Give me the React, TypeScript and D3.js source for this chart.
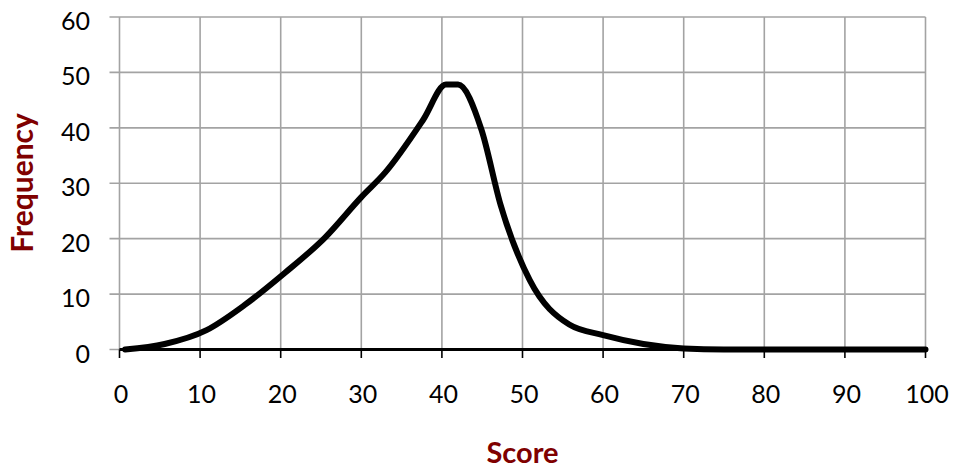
import React from "react";
import * as d3 from "d3";

const scores = [0.7, 5.6, 10.8, 15.5, 20.5, 25.5, 30, 33, 37.7, 40.5, 42, 44.9, 47.3, 50.9, 55.8, 60, 65, 70, 75, 80, 85, 90, 95, 100];
const freqs = [0, 1, 3.5, 8, 13.8, 20.2, 27.5, 32, 41.5, 47.8, 47.8, 39.7, 26, 12.5, 4.5, 2.6, 1.0, 0.2, 0, 0, 0, 0, 0, 0];
const xTicks = [0, 10, 20, 30, 40, 50, 60, 70, 80, 90, 100];
const yTicks = [0, 10, 20, 30, 40, 50, 60];
const xTitle = "Score";
const yTitle = "Frequency";

const W = 953;
const H = 471;
const X0 = 119.5;
const X1 = 925.5;
const Y0 = 349.5;
const Y1 = 17;

export default function App() {
  const x = d3.scaleLinear().domain([0, 100]).range([X0, X1]);
  const y = d3.scaleLinear().domain([0, 60]).range([Y0, Y1]);
  const pts = scores.map((s, i) => [s, freqs[i]] as [number, number]);
  const line = d3
    .line<[number, number]>()
    .x((d) => x(d[0]))
    .y((d) => y(d[1]))
    .curve(d3.curveMonotoneX);
  const grid = "#a3a3a3";
  const font = "Lato, 'Open Sans', sans-serif";
  return (
    <svg
      width={W}
      height={H}
      style={{ position: "absolute", left: 0, top: 0, background: "#fff" }}
    >
      {yTicks.map((t) => (
        <g key={"y" + t}>
          <line x1={X0 - 10} x2={X1} y1={y(t)} y2={y(t)} stroke={grid} strokeWidth={1.6} />
          <text
            x={90}
            y={y(t) + 13}
            textAnchor="end"
            fontFamily={font}
            fontSize={25}
            fill="#000"
          >
            {t}
          </text>
        </g>
      ))}
      {xTicks.map((t) => (
        <g key={"x" + t}>
          <line x1={x(t)} x2={x(t)} y1={Y1} y2={Y0} stroke={grid} strokeWidth={1.6} />
          <line x1={x(t)} x2={x(t)} y1={Y0} y2={Y0 + 8.5} stroke="#000" strokeWidth={1.6} />
          <text
            x={x(t) + 1.5}
            y={403}
            textAnchor="middle"
            fontFamily={font}
            fontSize={25}
            fill="#000"
          >
            {t}
          </text>
        </g>
      ))}
      <line x1={X0} x2={X1} y1={Y0} y2={Y0} stroke="#000" strokeWidth={3} />
      <path
        d={line(pts) || ""}
        fill="none"
        stroke="#000"
        strokeWidth={6}
        strokeLinejoin="round"
        strokeLinecap="round"
      />
      <text
        x={522.5}
        y={462.5}
        textAnchor="middle"
        fontFamily={font}
        fontWeight="bold"
        fontSize={29}
        fill="#7f0000"
      >
        {xTitle}
      </text>
      <text
        transform={`translate(33,183) rotate(-90)`}
        textAnchor="middle"
        fontFamily={font}
        fontWeight="bold"
        fontSize={30}
        fill="#7f0000"
      >
        {yTitle}
      </text>
    </svg>
  );
}
